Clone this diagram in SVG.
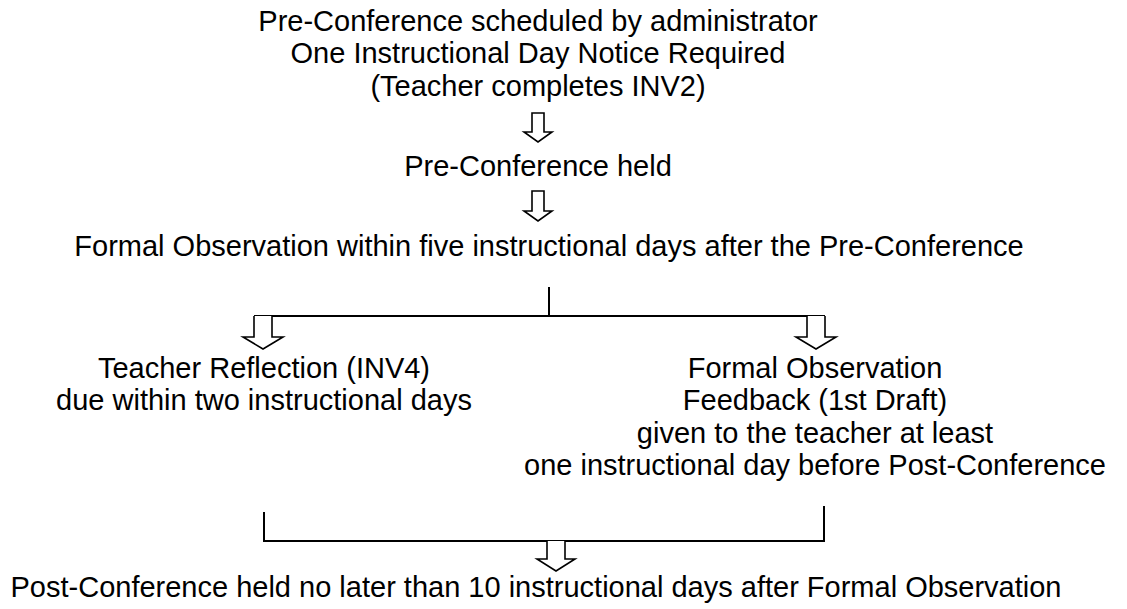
<svg xmlns="http://www.w3.org/2000/svg" width="1127" height="609" viewBox="0 0 1127 609">
<style>
text{font-family:"Liberation Sans",Arial,sans-serif;font-size:29px;fill:#000;text-anchor:middle}
.ln{stroke:#000;stroke-width:2;fill:none}
.ar{stroke:#000;stroke-width:1.6;fill:#fff;stroke-linejoin:miter}
</style>
<rect width="1127" height="609" fill="#fff"/>
<g id="n1"><text x="538" y="31">Pre-Conference scheduled by administrator</text><text x="538" y="63">One Instructional Day Notice Required</text><text x="538" y="96">(Teacher completes INV2)</text></g>
<g id="n2"><text x="538" y="176">Pre-Conference held</text></g>
<g id="n3"><text x="549" y="256">Formal Observation within five instructional days after the Pre-Conference</text></g>
<g id="n4"><text x="264" y="378">Teacher Reflection (INV4)</text><text x="264" y="410">due within two instructional days</text></g>
<g id="n5"><text x="815" y="378">Formal Observation</text><text x="815" y="410">Feedback (1st Draft)</text><text x="815" y="443">given to the teacher at least</text><text x="815" y="475">one instructional day before Post-Conference</text></g>
<g id="n6"><text x="536" y="597">Post-Conference held no later than 10 instructional days after Formal Observation</text></g>
<g id="connectors">
<path class="ar" d="M532 113 V132 H524 L538 142 L552 132 H544 V113 Z"/>
<path class="ar" d="M532 191 V211 H524 L538 221 L552 211 H544 V191 Z"/>
<path class="ln" d="M549 287 V316 M254 316 H825"/>
<path class="ar" d="M254 316 V337 H243 L263 349 L283 337 H272 V316"/>
<path class="ar" d="M807 316 V337 H796 L816 349 L836 337 H825 V316"/>
<path class="ln" d="M264 512 V541 H824 V506"/>
<path class="ar" d="M547 541 V559 H537 L556 571 L575 559 H565 V541"/>
</g>
</svg>
